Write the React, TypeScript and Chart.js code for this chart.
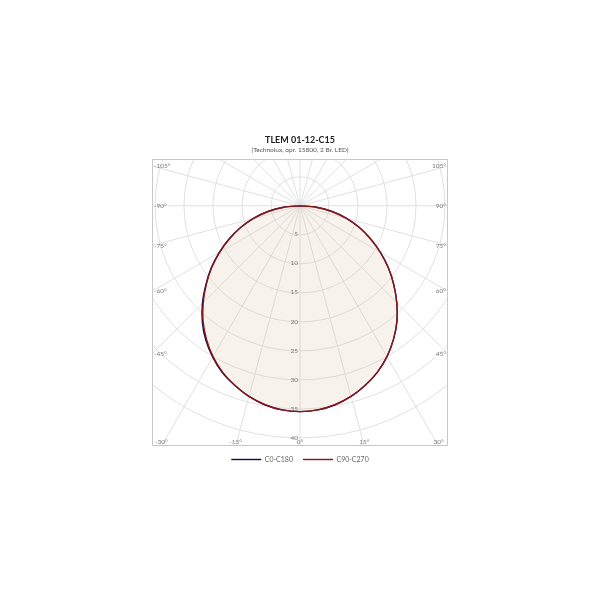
import React, { useEffect, useRef } from "react";
import { Chart, registerables } from "chart.js";

Chart.register(...registerables);

const TITLE = "TLEM 01-12-C15";
const SUBTITLE = "(Technolux, opr. 15800, 2 Br. LED)";
const SERIES_NAMES = ["C0-C180", "C90-C270"];
const SERIES_COLORS = ["#0b0b5e", "#8b1414"];

// gamma angles (deg), 0 = straight down, negative = left half
const GAMMA = [
  -90, -85, -80, -75, -70, -65, -60, -55, -50, -45, -40, -35, -30, -25, -20, -15, -10, -5,
  0, 5, 10, 15, 20, 25, 30, 35, 40, 45, 50, 55, 60, 65, 70, 75, 80, 85, 90,
];

// luminous intensity values
const C0_C180 = [
  0, 2.8, 5.6, 8.3, 10.9, 13.5, 16.1, 18.7, 21.2, 23.8, 26.2, 28.3, 30.1, 31.7, 32.9, 34.0, 34.8, 35.3,
  35.45, 35.3, 34.8, 34.0, 32.9, 31.6, 30.0, 28.1, 26.0, 23.6, 21.1, 18.6, 16.0, 13.4, 10.9, 8.3, 5.6, 2.8, 0,
];
const C90_C270 = [
  0, 2.8, 5.6, 8.3, 10.9, 13.4, 16.0, 18.6, 21.1, 23.6, 26.0, 28.1, 30.0, 31.6, 32.9, 34.0, 34.8, 35.3,
  35.45, 35.3, 34.8, 34.0, 32.9, 31.6, 30.0, 28.1, 26.0, 23.6, 21.1, 18.6, 16.0, 13.4, 10.9, 8.3, 5.6, 2.8, 0,
];

const RADIAL_TICKS = [5, 10, 15, 20, 25, 30, 35, 40];
const ANGLE_LINES = [
  -180, -165, -150, -135, -120, -105, -90, -75, -60, -45, -30, -15,
  0, 15, 30, 45, 60, 75, 90, 105, 120, 135, 150, 165,
];
const ANGLE_LABELS = [-105, -90, -75, -60, -45, -30, -15, 0, 15, 30, 45, 60, 75, 90, 105];

const X_MIN = -25.52;
const X_MAX = 25.52;
const Y_MIN = -8.07;
const Y_MAX = 41.38;

const FONT = "Lato, 'DejaVu Sans', sans-serif";

function toXY(values: number[]) {
  return GAMMA.map((g, i) => {
    const r = (g * Math.PI) / 180;
    return { x: values[i] * Math.sin(r), y: values[i] * Math.cos(r) };
  });
}

const polarGrid = {
  id: "polarGrid",
  beforeDatasetsDraw(chart: any) {
    const { ctx, chartArea: a, scales } = chart;
    const xs = scales.x;
    const ys = scales.y;
    const cx = xs.getPixelForValue(0);
    const cy = ys.getPixelForValue(0);
    ctx.save();
    ctx.beginPath();
    ctx.rect(a.left, a.top, a.right - a.left, a.bottom - a.top);
    ctx.clip();
    ctx.strokeStyle = "#e0e0e0";
    ctx.lineWidth = 1;
    for (const r of RADIAL_TICKS) {
      const rx = xs.getPixelForValue(r) - cx;
      const ry = ys.getPixelForValue(r) - cy;
      ctx.beginPath();
      ctx.ellipse(cx, cy, Math.abs(rx), Math.abs(ry), 0, 0, Math.PI * 2);
      ctx.stroke();
    }
    for (const g of ANGLE_LINES) {
      const rad = (g * Math.PI) / 180;
      const far = 100;
      const px = xs.getPixelForValue(far * Math.sin(rad));
      const py = ys.getPixelForValue(far * Math.cos(rad));
      ctx.beginPath();
      ctx.moveTo(cx, cy);
      ctx.lineTo(px, py);
      ctx.stroke();
    }
    ctx.restore();
  },
  afterDraw(chart: any) {
    const { ctx, chartArea: a, scales } = chart;
    const xs = scales.x;
    const ys = scales.y;
    const cx = xs.getPixelForValue(0);
    const cy = ys.getPixelForValue(0);
    ctx.save();
    ctx.strokeStyle = "#c8c8c8";
    ctx.lineWidth = 1;
    ctx.strokeRect(Math.round(a.left) + 0.5, Math.round(a.top) + 0.5, Math.round(a.right - a.left) - 1, Math.round(a.bottom - a.top) - 1);

    ctx.font = `6.5px ${FONT}`;
    ctx.fillStyle = "#7a7a7a";
    // radial labels
    ctx.textAlign = "right";
    ctx.textBaseline = "middle";
    for (const r of RADIAL_TICKS) {
      ctx.fillText(String(r), cx - 2, ys.getPixelForValue(r) - 0.5);
    }
    // angle labels at box edges
    for (const g of ANGLE_LABELS) {
      const rad = (g * Math.PI) / 180;
      const dx = Math.sin(rad);
      const dy = Math.cos(rad);
      const tx = Math.abs(dx) > 1e-9 ? (dx < 0 ? a.left - cx : a.right - cx) / dx : Infinity;
      const ty = dy > 1e-9 ? (a.bottom - cy) / dy : dy < -1e-9 ? (a.top - cy) / dy : Infinity;
      const text = `${g}°`;
      const w = ctx.measureText(text).width;
      if (tx < ty) {
        const y = cy + tx * dy;
        ctx.textBaseline = "middle";
        if (dx < 0) {
          ctx.textAlign = "left";
          ctx.fillText(text, a.left + 2, y);
        } else {
          ctx.textAlign = "right";
          ctx.fillText(text, a.right - 2, y);
        }
      } else {
        const x = cx + ty * dx;
        const y = a.bottom - 4.5;
        ctx.textBaseline = "middle";
        if (x - w / 2 < a.left + 2) {
          ctx.textAlign = "left";
          ctx.fillText(text, a.left + 2, y);
        } else if (x + w / 2 > a.right - 2) {
          ctx.textAlign = "right";
          ctx.fillText(text, a.right - 2, y);
        } else {
          ctx.textAlign = "center";
          ctx.fillText(text, x, y);
        }
      }
    }
    ctx.restore();
  },
};

export default function App() {
  const ref = useRef<HTMLCanvasElement>(null);

  useEffect(() => {
    if (!ref.current) return;
    const chart = new Chart(ref.current, {
      type: "scatter",
      data: {
        datasets: [
          {
            label: SERIES_NAMES[0],
            data: toXY(C0_C180),
            showLine: true,
            borderColor: SERIES_COLORS[0],
            backgroundColor: SERIES_COLORS[0],
            borderWidth: 1.4,
            pointRadius: 0,
            tension: 0.25,
            fill: false,
            order: 1,
          },
          {
            label: SERIES_NAMES[1],
            data: toXY(C90_C270),
            showLine: true,
            borderColor: SERIES_COLORS[1],
            backgroundColor: "rgba(215,195,160,0.2)",
            borderWidth: 1.4,
            pointRadius: 0,
            tension: 0.25,
            fill: "shape",
            order: 0,
          },
        ],
      },
      options: {
        responsive: false,
        animation: false,
        layout: { padding: { left: 152, right: 152, top: 0, bottom: 127 } },
        scales: {
          x: { type: "linear", display: false, min: X_MIN, max: X_MAX },
          y: { type: "linear", display: false, min: Y_MIN, max: Y_MAX, reverse: true },
        },
        plugins: {
          title: {
            display: true,
            text: TITLE,
            color: "#222",
            font: { family: FONT, size: 9, weight: "bold" },
            padding: { top: 135, bottom: 0 },
          },
          subtitle: {
            display: true,
            text: SUBTITLE,
            color: "#555",
            font: { family: FONT, size: 6.5 },
            padding: { top: 0, bottom: 5.4 },
          },
          legend: {
            position: "bottom",
            labels: {
              usePointStyle: true,
              pointStyle: "line",
              pointStyleWidth: 30,
              padding: 10,
              color: "#666",
              font: { family: FONT, size: 7 },
              sort: (a: any, b: any) => a.datasetIndex - b.datasetIndex,
            },
          },
          tooltip: { enabled: false },
        },
      },
      plugins: [polarGrid],
    } as any);
    return () => chart.destroy();
  }, []);

  return (
    <div style={{ position: "fixed", left: 0, top: 0, width: 600, height: 600, background: "#fff" }}>
      <canvas ref={ref} width={600} height={600} style={{ display: "block" }} />
    </div>
  );
}
